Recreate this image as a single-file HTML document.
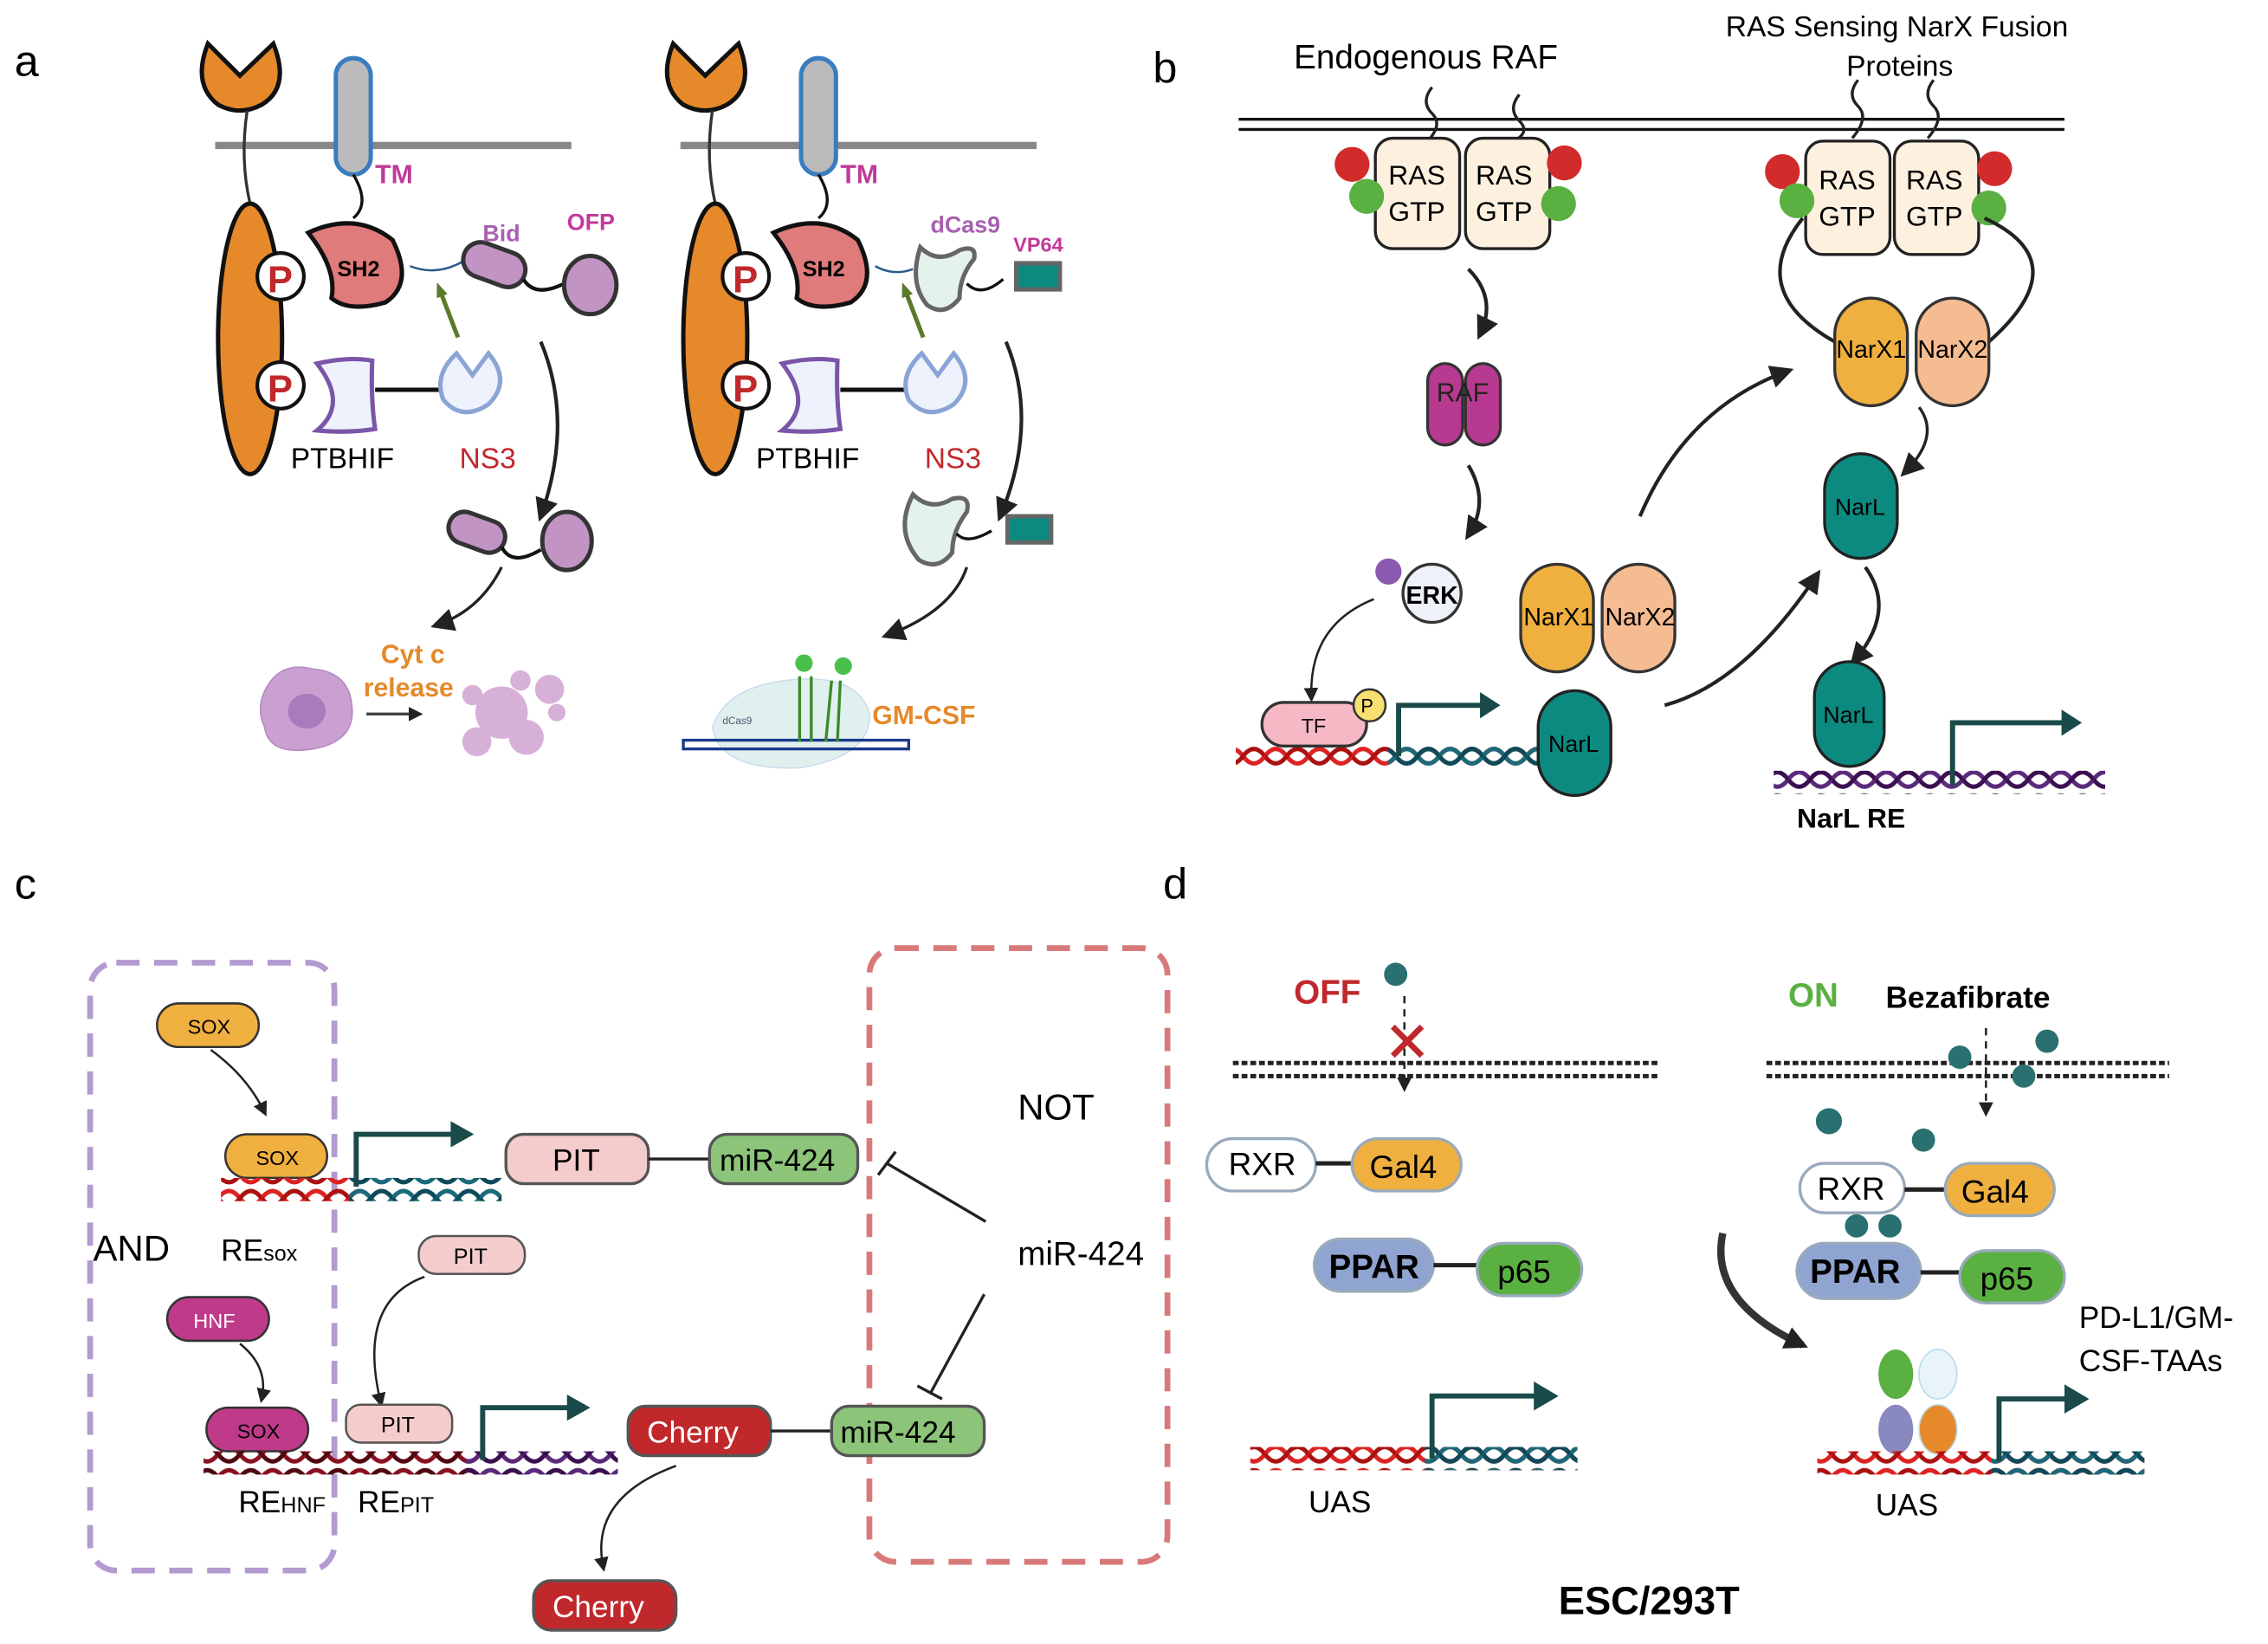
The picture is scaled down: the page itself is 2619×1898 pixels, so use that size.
<!DOCTYPE html>
<html><head><meta charset="utf-8"><style>
html,body{margin:0;padding:0;background:#fff}
svg{display:block}
text{font-family:"Liberation Sans",sans-serif}
</style></head><body>
<svg width="2619" height="1898" viewBox="0 0 1560 1130.5" xmlns="http://www.w3.org/2000/svg">
<defs>
<marker id="ah" markerWidth="10" markerHeight="10" refX="7" refY="5" orient="auto" markerUnits="userSpaceOnUse"><path d="M0,0 L10,5 L0,10 z" fill="#222"/></marker>
<marker id="ahb" markerWidth="16" markerHeight="16" refX="12" refY="8" orient="auto" markerUnits="userSpaceOnUse"><path d="M0,0 L16,8 L0,16 z" fill="#222"/></marker>
<marker id="ahg" markerWidth="10" markerHeight="10" refX="6" refY="5" orient="auto" markerUnits="userSpaceOnUse"><path d="M0,1 L10,5 L0,9 z" fill="#5a7a2a"/></marker>
<pattern id="dnaR" width="30" height="16" patternUnits="userSpaceOnUse"><path d="M0,8 Q7.5,-2 15,8 T30,8" fill="none" stroke="#d22" stroke-width="3"/><path d="M0,8 Q7.5,18 15,8 T30,8" fill="none" stroke="#a11" stroke-width="3"/></pattern>
<pattern id="dnaT" width="30" height="16" patternUnits="userSpaceOnUse"><path d="M0,8 Q7.5,-2 15,8 T30,8" fill="none" stroke="#1a6a7a" stroke-width="3"/><path d="M0,8 Q7.5,18 15,8 T30,8" fill="none" stroke="#0d4a5a" stroke-width="3"/></pattern>
<pattern id="dnaP" width="30" height="16" patternUnits="userSpaceOnUse"><path d="M0,8 Q7.5,-2 15,8 T30,8" fill="none" stroke="#5a2a7a" stroke-width="3"/><path d="M0,8 Q7.5,18 15,8 T30,8" fill="none" stroke="#3a1050" stroke-width="3"/></pattern>
<pattern id="dnaD" width="30" height="16" patternUnits="userSpaceOnUse"><path d="M0,8 Q7.5,-2 15,8 T30,8" fill="none" stroke="#8a1020" stroke-width="3"/><path d="M0,8 Q7.5,18 15,8 T30,8" fill="none" stroke="#500810" stroke-width="3"/></pattern>
</defs>

<!-- ===== Panel a ===== -->
<text x="10" y="52" font-size="30">a</text>
<g id="aL">
<line x1="148" y1="100" x2="393" y2="100" stroke="#888" stroke-width="5"/>
<path d="M143,30 L165,52 L188,30 Q200,60 180,72 Q165,80 150,72 Q132,58 143,30z" fill="#e5892b" stroke="#111" stroke-width="3"/>
<path d="M170,76 Q165,110 172,140" stroke="#333" stroke-width="2" fill="none"/>
<ellipse cx="172" cy="233" rx="22" ry="93" fill="#e5892b" stroke="#111" stroke-width="3"/>
<rect x="231" y="40" width="24" height="80" rx="12" fill="#bbb" stroke="#3a7cc0" stroke-width="3"/>
<text x="258" y="126" font-size="18" font-weight="bold" fill="#c03a9a">TM</text>
<path d="M243,120 Q255,140 243,150" stroke="#111" stroke-width="2" fill="none"/>
<path d="M212,160 Q245,145 270,165 Q285,195 265,208 Q240,215 228,205 Q232,185 212,160z" fill="#e07b7b" stroke="#111" stroke-width="3"/>
<text x="232" y="190" font-size="15" font-weight="bold">SH2</text>
<circle cx="193" cy="190" r="16" fill="#fff" stroke="#111" stroke-width="2.5"/><text x="184" y="201" font-size="26" font-weight="bold" fill="#c0282b">P</text>
<circle cx="193" cy="265" r="16" fill="#fff" stroke="#111" stroke-width="2.5"/><text x="184" y="276" font-size="26" font-weight="bold" fill="#c0282b">P</text>
<path d="M282,183 Q300,190 318,180" stroke="#2a5a8a" stroke-width="1.5" fill="none"/>
<rect x="318" y="170" width="44" height="24" rx="12" transform="rotate(20 340 182)" fill="#c294c4" stroke="#333" stroke-width="3"/>
<path d="M360,192 Q368,205 388,195" stroke="#111" stroke-width="2.5" fill="none"/>
<ellipse cx="406" cy="196" rx="18" ry="20" fill="#c294c4" stroke="#333" stroke-width="3"/>
<text x="332" y="166" font-size="16" font-weight="bold" fill="#a860b0">Bid</text>
<text x="390" y="158" font-size="16" font-weight="bold" fill="#c03a9a">OFP</text>
<path d="M218,250 Q240,245 256,248 Q255,275 258,295 Q240,298 218,296 Q240,278 218,250z" fill="#eef2fc" stroke="#7a55a8" stroke-width="3"/>
<line x1="258" y1="268" x2="303" y2="268" stroke="#111" stroke-width="3"/>
<path d="M314,243 L325,258 L336,243 Q352,262 336,278 Q318,290 305,275 Q298,258 314,243z" fill="#eef2fc" stroke="#8aa5d5" stroke-width="3"/>
<line x1="315" y1="232" x2="302" y2="198" stroke="#5a7a2a" stroke-width="3" marker-end="url(#ahg)"/>
<text x="200" y="322" font-size="20">PTBHIF</text>
<text x="316" y="322" font-size="20" fill="#c0282b">NS3</text>
<path d="M372,235 Q395,290 372,355" stroke="#222" stroke-width="2.5" fill="none" marker-end="url(#ahb)"/>
<rect x="308" y="355" width="40" height="22" rx="11" transform="rotate(20 328 366)" fill="#c294c4" stroke="#333" stroke-width="3"/>
<path d="M345,376 Q352,390 372,378" stroke="#111" stroke-width="2.5" fill="none"/>
<ellipse cx="390" cy="372" rx="17" ry="20" fill="#c294c4" stroke="#333" stroke-width="3"/>
<path d="M345,390 Q330,420 300,430" stroke="#222" stroke-width="2" fill="none" marker-end="url(#ahb)"/>
<text x="262" y="456" font-size="18" font-weight="bold" fill="#e5892b">Cyt c</text>
<text x="250" y="479" font-size="18" font-weight="bold" fill="#e5892b">release</text>
<path d="M185,470 Q195,455 215,460 Q240,462 242,485 Q245,510 215,515 Q185,520 182,500 Q175,485 185,470z" fill="#c9a0d0" stroke="#b58cc0"/>
<ellipse cx="211" cy="489" rx="13" ry="12" fill="#a87cbc"/>
<line x1="252" y1="491" x2="288" y2="491" stroke="#444" stroke-width="2" marker-end="url(#ah)"/>
<circle cx="345" cy="490" r="18" fill="#d7b0d8"/><circle cx="362" cy="507" r="12" fill="#d7b0d8"/><circle cx="328" cy="510" r="10" fill="#d7b0d8"/><circle cx="378" cy="474" r="10" fill="#d7b0d8"/><circle cx="358" cy="468" r="7" fill="#d7b0d8"/><circle cx="383" cy="490" r="6" fill="#d7b0d8"/><circle cx="325" cy="478" r="7" fill="#d7b0d8"/>
</g>
<g transform="translate(320,0)">
<line x1="148" y1="100" x2="393" y2="100" stroke="#888" stroke-width="5"/>
<path d="M143,30 L165,52 L188,30 Q200,60 180,72 Q165,80 150,72 Q132,58 143,30z" fill="#e5892b" stroke="#111" stroke-width="3"/>
<path d="M170,76 Q165,110 172,140" stroke="#333" stroke-width="2" fill="none"/>
<ellipse cx="172" cy="233" rx="22" ry="93" fill="#e5892b" stroke="#111" stroke-width="3"/>
<rect x="231" y="40" width="24" height="80" rx="12" fill="#bbb" stroke="#3a7cc0" stroke-width="3"/>
<text x="258" y="126" font-size="18" font-weight="bold" fill="#c03a9a">TM</text>
<path d="M243,120 Q255,140 243,150" stroke="#111" stroke-width="2" fill="none"/>
<path d="M212,160 Q245,145 270,165 Q285,195 265,208 Q240,215 228,205 Q232,185 212,160z" fill="#e07b7b" stroke="#111" stroke-width="3"/>
<text x="232" y="190" font-size="15" font-weight="bold">SH2</text>
<circle cx="193" cy="190" r="16" fill="#fff" stroke="#111" stroke-width="2.5"/><text x="184" y="201" font-size="26" font-weight="bold" fill="#c0282b">P</text>
<circle cx="193" cy="265" r="16" fill="#fff" stroke="#111" stroke-width="2.5"/><text x="184" y="276" font-size="26" font-weight="bold" fill="#c0282b">P</text>
<path d="M282,183 Q295,190 308,185" stroke="#2a5a8a" stroke-width="1.5" fill="none"/>
<path d="M313,170 Q325,182 340,172 Q352,168 350,178 Q340,190 340,205 Q330,218 318,210 Q305,195 313,170z" fill="#e4f2ee" stroke="#666" stroke-width="3"/>
<path d="M345,195 Q355,205 370,192" stroke="#111" stroke-width="2" fill="none"/>
<rect x="379" y="181" width="30" height="18" fill="#0d8a80" stroke="#666" stroke-width="3"/>
<text x="320" y="160" font-size="16" font-weight="bold" fill="#a860b0">dCas9</text>
<text x="377" y="173" font-size="14" font-weight="bold" fill="#c03a9a">VP64</text>
<path d="M218,250 Q240,245 256,248 Q255,275 258,295 Q240,298 218,296 Q240,278 218,250z" fill="#eef2fc" stroke="#7a55a8" stroke-width="3"/>
<line x1="258" y1="268" x2="303" y2="268" stroke="#111" stroke-width="3"/>
<path d="M314,243 L325,258 L336,243 Q352,262 336,278 Q318,290 305,275 Q298,258 314,243z" fill="#eef2fc" stroke="#8aa5d5" stroke-width="3"/>
<line x1="315" y1="232" x2="302" y2="198" stroke="#5a7a2a" stroke-width="3" marker-end="url(#ahg)"/>
<text x="200" y="322" font-size="20">PTBHIF</text>
<text x="316" y="322" font-size="20" fill="#c0282b">NS3</text>
<path d="M372,235 Q395,290 368,355" stroke="#222" stroke-width="2.5" fill="none" marker-end="url(#ahb)"/>
<path d="M308,340 Q320,352 335,343 Q348,340 345,352 Q335,365 335,380 Q325,393 312,385 Q295,365 308,340z" fill="#e4f2ee" stroke="#666" stroke-width="3"/>
<path d="M338,367 Q345,375 362,365" stroke="#111" stroke-width="2" fill="none"/>
<rect x="373" y="355" width="30" height="18" fill="#0d8a80" stroke="#666" stroke-width="3"/>
<path d="M345,390 Q335,420 290,437" stroke="#222" stroke-width="2" fill="none" marker-end="url(#ahb)"/>
<path d="M170,500 Q180,470 230,467 Q270,465 278,490 Q280,520 230,528 Q175,530 170,500z" fill="#e0f0ee" stroke="#cde"/>
<rect x="150" y="509" width="155" height="6" fill="none" stroke="#1a3a8a" stroke-width="2"/>
<text x="177" y="498" font-size="7" fill="#557">dCas9</text>
<path d="M230,510 L230,465 M238,510 L238,465 M248,510 L252,468 M256,510 L258,468" stroke="#3a8a2a" stroke-width="2"/>
<circle cx="233" cy="456" r="6" fill="#4ac04a"/><circle cx="260" cy="458" r="6" fill="#4ac04a"/>
<text x="280" y="498" font-size="18" font-weight="bold" fill="#e5892b">GM-CSF</text>
</g>

<!-- ===== Panel b ===== -->
<text x="793" y="57" font-size="30">b</text>
<line x1="852" y1="82" x2="1420" y2="82" stroke="#111" stroke-width="2"/>
<line x1="852" y1="89" x2="1420" y2="89" stroke="#111" stroke-width="2"/>
<text x="890" y="47" font-size="23">Endogenous RAF</text>
<text x="1187" y="25" font-size="20">RAS Sensing NarX Fusion</text>
<text x="1270" y="52" font-size="20">Proteins</text>
<path d="M985,60 q-8,10 0,18 q8,8 -4,20 M1045,65 q-8,10 0,18 q8,8 -4,14 M1278,55 q-8,10 0,18 q8,8 -4,22 M1330,55 q-8,10 0,18 q8,8 -4,22" stroke="#222" stroke-width="2" fill="none"/>
<g font-size="19">
<rect x="946" y="95" width="58" height="76" rx="12" fill="#fdf0df" stroke="#222" stroke-width="2"/><text x="955" y="127">RAS</text><text x="955" y="152">GTP</text>
<rect x="1008" y="95" width="58" height="76" rx="12" fill="#fdf0df" stroke="#222" stroke-width="2"/><text x="1015" y="127">RAS</text><text x="1015" y="152">GTP</text>
<rect x="1242" y="97" width="58" height="78" rx="12" fill="#fdf0df" stroke="#222" stroke-width="2"/><text x="1251" y="130">RAS</text><text x="1251" y="155">GTP</text>
<rect x="1303" y="97" width="58" height="78" rx="12" fill="#fdf0df" stroke="#222" stroke-width="2"/><text x="1311" y="130">RAS</text><text x="1311" y="155">GTP</text>
</g>
<circle cx="930" cy="113" r="12" fill="#d22b2b"/><circle cx="940" cy="135" r="12" fill="#5ab040"/>
<circle cx="1076" cy="112" r="12" fill="#d22b2b"/><circle cx="1072" cy="140" r="12" fill="#5ab040"/>
<circle cx="1226" cy="118" r="12" fill="#d22b2b"/><circle cx="1236" cy="138" r="12" fill="#5ab040"/>
<circle cx="1372" cy="116" r="12" fill="#d22b2b"/><circle cx="1368" cy="143" r="12" fill="#5ab040"/>
<path d="M1010,185 Q1030,205 1018,230" stroke="#222" stroke-width="2.5" fill="none" marker-end="url(#ahb)"/>
<rect x="982" y="250" width="24" height="56" rx="12" fill="#b83a90" stroke="#333" stroke-width="2"/>
<rect x="1008" y="250" width="24" height="56" rx="12" fill="#b83a90" stroke="#333" stroke-width="2"/>
<text x="988" y="276" font-size="18" fill="#222">RAF</text>
<path d="M1010,320 Q1025,345 1010,368" stroke="#222" stroke-width="2.5" fill="none" marker-end="url(#ahb)"/>
<circle cx="955" cy="393" r="9" fill="#8a5ab0"/>
<circle cx="985" cy="408" r="20" fill="#eef2f8" stroke="#333" stroke-width="2"/><text x="967" y="415" font-size="17" font-weight="bold">ERK</text>
<path d="M945,412 Q900,430 902,480" stroke="#222" stroke-width="1.5" fill="none" marker-end="url(#ah)"/>
<rect x="1046" y="388" width="50" height="74" rx="25" fill="#f0b040" stroke="#333" stroke-width="2"/><text x="1048" y="430" font-size="17">NarX1</text>
<rect x="1102" y="388" width="50" height="74" rx="25" fill="#f5bc92" stroke="#333" stroke-width="2"/><text x="1104" y="430" font-size="17">NarX2</text>
<rect x="850" y="512" width="210" height="16" fill="url(#dnaR)"/>
<rect x="955" y="512" width="110" height="16" fill="url(#dnaT)"/>
<rect x="868" y="483" width="72" height="30" rx="15" fill="#f7b8c6" stroke="#333" stroke-width="2"/><text x="895" y="504" font-size="14">TF</text>
<circle cx="942" cy="485" r="11" fill="#f8e070" stroke="#333" stroke-width="1.5"/><text x="936" y="490" font-size="13">P</text>
<path d="M962,520 L962,485 L1020,485" stroke="#1a4a4a" stroke-width="3.5" fill="none"/><path d="M1018,476 L1032,485 L1018,494z" fill="#1a4a4a"/>
<rect x="1058" y="475" width="50" height="72" rx="25" fill="#0d8a80" stroke="#222" stroke-width="2"/><text x="1065" y="517" font-size="16">NarL</text>
<path d="M1145,485 Q1200,470 1250,395" stroke="#222" stroke-width="2.5" fill="none" marker-end="url(#ahb)"/>
<path d="M1128,355 Q1160,280 1230,255" stroke="#222" stroke-width="2.5" fill="none" marker-end="url(#ahb)"/>
<path d="M1240,150 Q1200,200 1262,235 M1365,150 Q1430,180 1368,235" stroke="#222" stroke-width="2.5" fill="none"/>
<rect x="1262" y="205" width="50" height="74" rx="25" fill="#f0b040" stroke="#333" stroke-width="2"/><text x="1263" y="246" font-size="17">NarX1</text>
<rect x="1318" y="205" width="50" height="74" rx="25" fill="#f5bc92" stroke="#333" stroke-width="2"/><text x="1319" y="246" font-size="17">NarX2</text>
<path d="M1320,280 Q1335,300 1310,325" stroke="#222" stroke-width="2" fill="none" marker-end="url(#ahb)"/>
<rect x="1255" y="312" width="50" height="72" rx="25" fill="#0d8a80" stroke="#222" stroke-width="2"/><text x="1262" y="354" font-size="16">NarL</text>
<path d="M1283,390 Q1305,420 1275,455" stroke="#222" stroke-width="2.5" fill="none" marker-end="url(#ahb)"/>
<rect x="1248" y="455" width="48" height="72" rx="24" fill="#0d8a80" stroke="#222" stroke-width="2"/><text x="1254" y="497" font-size="16">NarL</text>
<rect x="1220" y="530" width="228" height="16" fill="url(#dnaP)"/>
<path d="M1343,540 L1343,497 L1420,497" stroke="#1a4a4a" stroke-width="3.5" fill="none"/><path d="M1418,488 L1432,497 L1418,506z" fill="#1a4a4a"/>
<text x="1236" y="569" font-size="19" font-weight="bold">NarL RE</text>

<!-- ===== Panel c ===== -->
<text x="10" y="618" font-size="30">c</text>
<rect x="62" y="662" width="168" height="418" rx="18" fill="none" stroke="#b39ad0" stroke-width="4" stroke-dasharray="16,10"/>
<rect x="598" y="652" width="205" height="422" rx="18" fill="none" stroke="#d87a7a" stroke-width="4" stroke-dasharray="16,10"/>
<rect x="108" y="690" width="70" height="30" rx="15" fill="#f0b040" stroke="#333" stroke-width="1.5"/><text x="129" y="711" font-size="14">SOX</text>
<path d="M145,722 Q170,740 182,765" stroke="#222" stroke-width="1.5" fill="none" marker-end="url(#ah)"/>
<rect x="155" y="780" width="70" height="30" rx="15" fill="#f0b040" stroke="#333" stroke-width="1.5"/><text x="176" y="801" font-size="14">SOX</text>
<rect x="152" y="810" width="95" height="16" fill="url(#dnaR)"/>
<rect x="240" y="810" width="105" height="16" fill="url(#dnaT)"/>
<path d="M245,816 L245,780 L312,780" stroke="#1a4a4a" stroke-width="3.5" fill="none"/><path d="M310,771 L326,780 L310,789z" fill="#1a4a4a"/>
<text x="64" y="867" font-size="25">AND</text>
<text x="152" y="867" font-size="21">RE<tspan font-size="15">sox</tspan></text>
<rect x="348" y="780" width="98" height="34" rx="12" fill="#f5cccc" stroke="#555" stroke-width="2"/><text x="380" y="805" font-size="21">PIT</text>
<line x1="446" y1="797" x2="488" y2="797" stroke="#222" stroke-width="2"/>
<rect x="488" y="780" width="102" height="34" rx="12" fill="#8cc47a" stroke="#555" stroke-width="2"/><text x="495" y="805" font-size="21">miR-424</text>
<text x="700" y="770" font-size="25">NOT</text>
<text x="700" y="870" font-size="23">miR-424</text>
<line x1="678" y1="840" x2="610" y2="800" stroke="#222" stroke-width="2"/><line x1="604" y1="808" x2="616" y2="792" stroke="#222" stroke-width="2"/>
<line x1="677" y1="890" x2="640" y2="958" stroke="#222" stroke-width="2"/><line x1="631" y1="953" x2="648" y2="962" stroke="#222" stroke-width="2"/>
<rect x="288" y="850" width="73" height="26" rx="12" fill="#f5cccc" stroke="#555" stroke-width="1.5"/><text x="312" y="869" font-size="15">PIT</text>
<path d="M292,878 Q245,895 262,965" stroke="#222" stroke-width="1.5" fill="none" marker-end="url(#ah)"/>
<rect x="115" y="892" width="70" height="30" rx="15" fill="#c03a8a" stroke="#333" stroke-width="1.5"/><text x="133" y="913" font-size="14" fill="#fff">HNF</text>
<path d="M165,924 Q185,940 180,962" stroke="#222" stroke-width="1.5" fill="none" marker-end="url(#ah)"/>
<rect x="142" y="968" width="70" height="30" rx="15" fill="#c03a8a" stroke="#333" stroke-width="1.5"/><text x="163" y="989" font-size="14">SOX</text>
<rect x="238" y="966" width="73" height="26" rx="10" fill="#f5cccc" stroke="#555" stroke-width="1.5"/><text x="262" y="985" font-size="15">PIT</text>
<rect x="140" y="998" width="195" height="16" fill="url(#dnaD)"/>
<rect x="320" y="998" width="105" height="16" fill="url(#dnaP)"/>
<path d="M332,1004 L332,968 L392,968" stroke="#1a4a4a" stroke-width="3.5" fill="none"/><path d="M390,959 L406,968 L390,977z" fill="#1a4a4a"/>
<text x="164" y="1040" font-size="21">RE<tspan font-size="15">HNF</tspan></text>
<text x="246" y="1040" font-size="21">RE<tspan font-size="15">PIT</tspan></text>
<rect x="432" y="967" width="98" height="34" rx="12" fill="#c0282b" stroke="#555" stroke-width="2"/><text x="445" y="992" font-size="21" fill="#fff">Cherry</text>
<line x1="530" y1="984" x2="572" y2="984" stroke="#222" stroke-width="2"/>
<rect x="572" y="967" width="105" height="34" rx="12" fill="#8cc47a" stroke="#555" stroke-width="2"/><text x="578" y="992" font-size="21">miR-424</text>
<path d="M465,1008 Q405,1030 415,1078" stroke="#222" stroke-width="1.5" fill="none" marker-end="url(#ah)"/>
<rect x="367" y="1087" width="98" height="34" rx="12" fill="#c0282b" stroke="#555" stroke-width="2"/><text x="380" y="1112" font-size="21" fill="#fff">Cherry</text>

<!-- ===== Panel d ===== -->
<text x="800" y="618" font-size="30">d</text>
<text x="890" y="690" font-size="23" font-weight="bold" fill="#c0282b">OFF</text>
<circle cx="960" cy="670" r="8" fill="#2a7070"/>
<line x1="848" y1="731" x2="1142" y2="731" stroke="#222" stroke-width="3" stroke-dasharray="4,2"/>
<line x1="848" y1="740" x2="1142" y2="740" stroke="#222" stroke-width="3" stroke-dasharray="4,2"/>
<line x1="966" y1="685" x2="966" y2="748" stroke="#222" stroke-width="1.5" stroke-dasharray="5,4" marker-end="url(#ah)"/>
<path d="M958,706 L978,726 M978,706 L958,726" stroke="#c0282b" stroke-width="4"/>
<rect x="830" y="783" width="75" height="36" rx="18" fill="#fff" stroke="#9ab" stroke-width="2"/><text x="845" y="808" font-size="22">RXR</text>
<line x1="905" y1="800" x2="930" y2="800" stroke="#222" stroke-width="3"/>
<rect x="930" y="783" width="75" height="36" rx="18" fill="#f0b040" stroke="#9ab" stroke-width="2"/><text x="942" y="810" font-size="22">Gal4</text>
<rect x="904" y="852" width="82" height="36" rx="18" fill="#8fa4d0" stroke="#9ab" stroke-width="2"/><text x="914" y="879" font-size="23" font-weight="bold">PPAR</text>
<line x1="986" y1="870" x2="1016" y2="870" stroke="#222" stroke-width="3"/>
<rect x="1016" y="855" width="72" height="36" rx="18" fill="#5ab040" stroke="#9ab" stroke-width="2"/><text x="1030" y="882" font-size="22">p65</text>
<rect x="860" y="995" width="225" height="16" fill="url(#dnaR)"/>
<rect x="980" y="995" width="105" height="16" fill="url(#dnaT)"/>
<path d="M985,1003 L985,960 L1057,960" stroke="#1a4a4a" stroke-width="3.5" fill="none"/><path d="M1055,950 L1072,960 L1055,970z" fill="#1a4a4a"/>
<text x="900" y="1040" font-size="21">UAS</text>

<text x="1230" y="692" font-size="23" font-weight="bold" fill="#5ab040">ON</text>
<text x="1297" y="693" font-size="21" font-weight="bold">Bezafibrate</text>
<line x1="1215" y1="731" x2="1492" y2="731" stroke="#222" stroke-width="3" stroke-dasharray="4,2"/>
<line x1="1215" y1="740" x2="1492" y2="740" stroke="#222" stroke-width="3" stroke-dasharray="4,2"/>
<line x1="1366" y1="707" x2="1366" y2="765" stroke="#222" stroke-width="1.5" stroke-dasharray="5,4" marker-end="url(#ah)"/>
<g fill="#2a7070"><circle cx="1408" cy="716" r="8"/><circle cx="1348" cy="727" r="8"/><circle cx="1392" cy="740" r="8"/><circle cx="1258" cy="771" r="9"/><circle cx="1323" cy="784" r="8"/><circle cx="1277" cy="843" r="8"/><circle cx="1300" cy="843" r="8"/></g>
<rect x="1238" y="800" width="72" height="34" rx="17" fill="#fff" stroke="#9ab" stroke-width="2"/><text x="1250" y="825" font-size="22">RXR</text>
<line x1="1310" y1="818" x2="1338" y2="818" stroke="#222" stroke-width="3"/>
<rect x="1338" y="800" width="75" height="36" rx="18" fill="#f0b040" stroke="#9ab" stroke-width="2"/><text x="1349" y="827" font-size="22">Gal4</text>
<rect x="1236" y="855" width="85" height="38" rx="19" fill="#8fa4d0" stroke="#9ab" stroke-width="2"/><text x="1245" y="882" font-size="23" font-weight="bold">PPAR</text>
<line x1="1321" y1="875" x2="1348" y2="875" stroke="#222" stroke-width="3"/>
<rect x="1348" y="860" width="72" height="36" rx="18" fill="#5ab040" stroke="#9ab" stroke-width="2"/><text x="1362" y="887" font-size="22">p65</text>
<path d="M1185,848 Q1175,895 1240,925" stroke="#333" stroke-width="5" fill="none" marker-end="url(#ahb)"/>
<ellipse cx="1304" cy="945" rx="12" ry="17" fill="#5ab040"/><ellipse cx="1333" cy="945" rx="13" ry="17" fill="#e8f4f8" stroke="#bde"/>
<ellipse cx="1304" cy="983" rx="12" ry="17" fill="#8a88c0"/><ellipse cx="1333" cy="983" rx="13" ry="17" fill="#e5892b" stroke="#bde"/>
<rect x="1250" y="998" width="225" height="16" fill="url(#dnaR)"/>
<rect x="1370" y="998" width="105" height="16" fill="url(#dnaT)"/>
<path d="M1375,1005 L1375,962 L1422,962" stroke="#1a4a4a" stroke-width="3.5" fill="none"/><path d="M1420,952 L1437,962 L1420,972z" fill="#1a4a4a"/>
<text x="1290" y="1042" font-size="21">UAS</text>
<text x="1430" y="913" font-size="21">PD-L1/GM-</text>
<text x="1430" y="943" font-size="21">CSF-TAAs</text>
<text x="1072" y="1110" font-size="27" font-weight="bold">ESC/293T</text>
</svg>
</body></html>
